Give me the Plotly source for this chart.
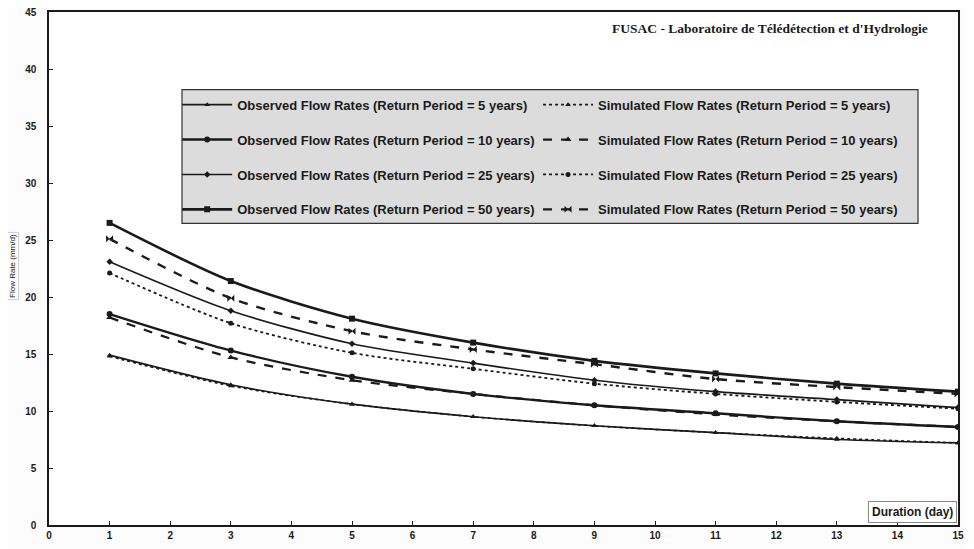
import plotly.graph_objects as go

duration = [1, 3, 5, 7, 9, 11, 13, 15]

obs_5 = [14.9, 12.3, 10.6, 9.5, 8.7, 8.1, 7.5, 7.2]
sim_5 = [14.8, 12.2, 10.6, 9.5, 8.7, 8.1, 7.6, 7.2]
obs_10 = [18.5, 15.3, 13.0, 11.5, 10.5, 9.8, 9.1, 8.6]
sim_10 = [18.2, 14.7, 12.7, 11.5, 10.5, 9.7, 9.1, 8.6]
obs_25 = [23.1, 18.8, 15.9, 14.2, 12.7, 11.7, 11.0, 10.3]
sim_25 = [22.1, 17.7, 15.1, 13.7, 12.4, 11.5, 10.8, 10.2]
obs_50 = [26.5, 21.4, 18.1, 16.0, 14.4, 13.3, 12.4, 11.7]
sim_50 = [25.1, 19.9, 17.0, 15.4, 14.1, 12.8, 12.1, 11.5]

x_ticks = list(range(0, 16))
y_ticks = list(range(0, 46, 5))

INK = "#1a1a1a"
FONT = "Liberation Sans"

series = [
    ("Observed Flow Rates (Return Period = 5 years)", obs_5, "solid", 1.6, "triangle-up", 5, "legend"),
    ("Observed Flow Rates (Return Period = 10 years)", obs_10, "solid", 2.4, "circle", 6, "legend"),
    ("Observed Flow Rates (Return Period = 25 years)", obs_25, "solid", 1.6, "diamond", 5, "legend"),
    ("Observed Flow Rates (Return Period = 50 years)", obs_50, "solid", 2.6, "square", 6, "legend"),
    ("Simulated Flow Rates (Return Period = 5 years)", sim_5, "dot", 1.6, "triangle-up", 5, "legend2"),
    ("Simulated Flow Rates (Return Period = 10 years)", sim_10, "dash", 2.2, "triangle-up", 6, "legend2"),
    ("Simulated Flow Rates (Return Period = 25 years)", sim_25, "dot", 1.8, "circle", 5, "legend2"),
    ("Simulated Flow Rates (Return Period = 50 years)", sim_50, "dash", 2.4, "bowtie", 7, "legend2"),
]

fig = go.Figure()
for i, (name, ys, dash, w, sym, ms, lg) in enumerate(series):
    fig.add_trace(go.Scatter(
        x=duration, y=ys, name=name, mode="lines+markers",
        line=dict(color=INK, width=w, dash=dash, shape="spline", smoothing=0.8),
        marker=dict(symbol=sym, size=ms, color=INK),
        legend=lg, legendgroup=f"g{i}",
    ))

legend_common = dict(
    bgcolor="rgba(0,0,0,0)", borderwidth=0,
    font=dict(family=FONT, size=13, color=INK, weight="bold"),
    itemwidth=50, tracegroupgap=15, yanchor="top", xanchor="left",
)

fig.update_layout(
    width=974, height=549,
    margin=dict(l=41, r=24, t=4, b=32),
    paper_bgcolor="#fcfcfc", plot_bgcolor="white",
    font=dict(family=FONT, size=9, color=INK),
    legend=dict(x=0.141, y=0.8485, **legend_common),
    legend2=dict(x=0.538, y=0.8485, **legend_common),
    xaxis=dict(
        range=[0, 15], tickvals=x_ticks, ticks="inside", ticklen=4,
        tickcolor=INK, tickwidth=1, showgrid=False, zeroline=False,
        showline=True, linecolor=INK, linewidth=1.5, mirror=True,
        tickfont=dict(family=FONT, size=10, weight="bold"), automargin=False,
        ticklabeloverflow="allow",
    ),
    yaxis=dict(
        range=[0, 45], tickvals=y_ticks, ticks="inside", ticklen=4,
        tickcolor=INK, tickwidth=1, showgrid=False, zeroline=False,
        showline=True, linecolor=INK, linewidth=1.5, mirror=True,
        tickfont=dict(family=FONT, size=10, weight="bold"), ticklabelstandoff=9,
        automargin=False, ticklabeloverflow="allow",
    ),
    shapes=[dict(
        type="rect", xref="paper", yref="paper", x0=0.1463, x1=0.956,
        y0=0.588, y1=0.8485, fillcolor="#dcdcdc", line=dict(color="#333", width=1.2),
        layer="below",
    )],
    annotations=[
        dict(text="FUSAC - Laboratoire de Télédétection et d'Hydrologie",
             xref="paper", yref="paper", x=0.617, y=0.967, xanchor="left", yanchor="middle",
             showarrow=False, font=dict(family="Liberation Serif", size=13.5, color=INK, weight="bold")),
        dict(text="Flow Rate (mm/d)", xref="paper", yref="paper", x=-0.0396, y=0.505,
             textangle=-90, showarrow=False, xanchor="center", yanchor="middle",
             bordercolor="#cfcfcf", borderwidth=1, borderpad=1,
             font=dict(family=FONT, size=8, color=INK)),
        dict(text="Duration (day)", xref="paper", yref="paper", x=0.999, y=0.025,
             xanchor="right", yanchor="middle", showarrow=False,
             bgcolor="white", bordercolor="#888", borderwidth=1, borderpad=3,
             font=dict(family=FONT, size=12, color=INK, weight="bold")),
    ],
)

fig.write_html("out.html")
